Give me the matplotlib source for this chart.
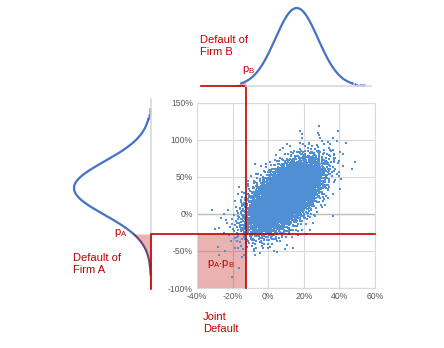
import numpy as np
import matplotlib
matplotlib.use("Agg")
import matplotlib.pyplot as plt

plt.rcParams["font.family"] = ["Liberation Sans", "DejaVu Sans"]
plt.rcParams["mathtext.fontset"] = "custom"
plt.rcParams["mathtext.rm"] = "Liberation Sans"
plt.rcParams["mathtext.it"] = "Liberation Sans"

W, H = 444, 348
RED = "#C00000"
BLUE = "#4472C4"
DOT = "#4F8FD3"
GREY = "#595959"

# returns (%), default thresholds and marginal shapes
x_ticks = [-40, -20, 0, 20, 40, 60]
y_ticks = [-100, -50, 0, 50, 100, 150]
p_b = -12.5          # default threshold for firm B (x)
p_a = -27.0          # default threshold for firm A (y)
mean_b, sd_b = 16.0, 12.0
mean_a, sd_a = 35.0, 36.0

# simulated joint returns
cloud_mean = (9.0, 24.0)
cloud_sd = (10.5, 25.0)
cloud_rho = 0.58
n_points = 5000
outliers_x = [28.7, 18.8, 18.8, 36.6, 48.8, 37.0, 37.5, -26.7, -20.5, -27.5, 14.0, 21.2, -30.0]
outliers_y = [119, 108, 103, 103, 70.7, 80, 76, -5.4, -84.7, -55, -45.5, -27.5, -20]


def halton(n, base, skip=30):
    out = np.zeros(n)
    for i in range(n):
        f, r, k = 1.0, 0.0, i + 1 + skip
        while k > 0:
            f /= base
            r += f * (k % base)
            k //= base
        out[i] = r
    return out


def px(x, y):
    return x / W, 1 - y / H


u1 = halton(n_points, 2)
u2 = halton(n_points, 3)
rad = np.sqrt(-2 * np.log(u1))
z1 = rad * np.cos(2 * np.pi * u2)
z2 = rad * np.sin(2 * np.pi * u2)
xs = cloud_mean[0] + cloud_sd[0] * z1
ys = cloud_mean[1] + cloud_sd[1] * (cloud_rho * z1 + np.sqrt(1 - cloud_rho ** 2) * z2)

fig = plt.figure(figsize=(W / 100, H / 100), dpi=100)

# main scatter
ax = fig.add_axes([197 / W, 60 / H, 178 / W, 185 / H])
ax.set_xlim(-40, 60)
ax.set_ylim(-100, 150)
ax.set_xticks(x_ticks)
ax.set_yticks(y_ticks)
ax.set_xticklabels([f"{t}%" for t in x_ticks])
ax.set_yticklabels([f"{t}%" for t in y_ticks])
ax.tick_params(length=0, labelsize=6.2, colors=GREY, pad=3)
ax.grid(True, color="#d9d9d9", lw=0.8)
ax.set_axisbelow(True)
for s in ax.spines.values():
    s.set_color("#d9d9d9")
    s.set_linewidth(0.8)
ax.axhline(0, color="#bfbfbf", lw=1.0, zorder=1)

ax.fill_between([-40, p_b], -100, p_a, color=RED, alpha=0.3, lw=0, zorder=1)
ax.scatter(xs, ys, s=2.2, marker="s", color=DOT, lw=0, zorder=2)
ax.scatter(outliers_x, outliers_y, s=2.2, marker="s", color=DOT, lw=0, zorder=2)
ax.axvline(p_b, ymin=0, ymax=(288 - 86) / 185, color=RED, lw=1.2, clip_on=False, zorder=3)
ax.axhline(p_a, xmin=(151 - 197) / 178, xmax=1, color=RED, lw=1.2, clip_on=False, zorder=3)

# marginal of firm B (top)
axt = fig.add_axes([197 / W, (H - 86) / H, 178 / W, 84 / H])
axt.set_xlim(-40, 60)
axt.set_ylim(0, 84 / 78)
axt.axis("off")
xb = np.linspace(-40, 60, 600)
fb = np.exp(-0.5 * ((xb - mean_b) / sd_b) ** 2)
body = np.abs(xb - mean_b) < 2.6 * sd_b
axt.plot(xb[body], fb[body], color=BLUE, lw=1.6)
tail = (xb > mean_b + 2.6 * sd_b) & (xb < 55)
axt.plot(xb[tail][::8], fb[tail][::8], ".", color=BLUE, ms=1.5)
left = xb <= p_b
axt.fill_between(xb[left], 0, fb[left], color=RED, alpha=0.3, lw=0)
axt.plot([-38, p_b], [0, 0], color=RED, lw=1.2, clip_on=False)
axt.plot([p_b, 58], [0, 0], color="#d9d9d9", lw=1.2, clip_on=False)

# marginal of firm A (left)
axl = fig.add_axes([60 / W, 60 / H, 91 / W, 185 / H])
axl.set_ylim(-100, 150)
axl.set_xlim(-91 / 77, 0)
axl.axis("off")
ya = np.linspace(-100, 150, 800)
fa = np.exp(-0.5 * ((ya - mean_a) / sd_a) ** 2)
body = (ya > -82) & (ya < mean_a + 2.6 * sd_a)
axl.plot(-fa[body], ya[body], color=BLUE, lw=1.6)
tail = (ya > mean_a + 2.6 * sd_a) & (ya < 143)
axl.plot(-fa[tail][::8], ya[tail][::8], ".", color=BLUE, ms=1.5)
low = ya <= p_a
axl.fill_betweenx(ya[low], -fa[low], 0, color=RED, alpha=0.3, lw=0)
axl.plot(-fa[low], ya[low], color=RED, lw=1.0, alpha=0.5)
axl.plot([0, 0], [p_a, 150 + 4 / 0.74], color="#d9d9d9", lw=1.2, clip_on=False)
axl.plot([0, 0], [-102, p_a], color=RED, lw=1.2, clip_on=False)

# labels
kw = dict(color=RED, fontsize=8, linespacing=1.15)
fig.text(*px(200, 46), "Default of\nFirm B", va="center", ha="left", **kw)
fig.text(*px(242, 70), r"p$_{\rm B}$", va="center", ha="left", **kw)
fig.text(*px(73, 264), "Default of\nFirm A", va="center", ha="left", **kw)
fig.text(*px(114, 233), r"p$_{\rm A}$", va="center", ha="left", **kw)
fig.text(*px(207, 264), r"p$_{\rm A}$$\cdot$p$_{\rm B}$", va="center", ha="left", **kw)
fig.text(*px(203, 323), "Joint\nDefault", va="center", ha="left", **kw)

fig.savefig("out.png", dpi=100)
